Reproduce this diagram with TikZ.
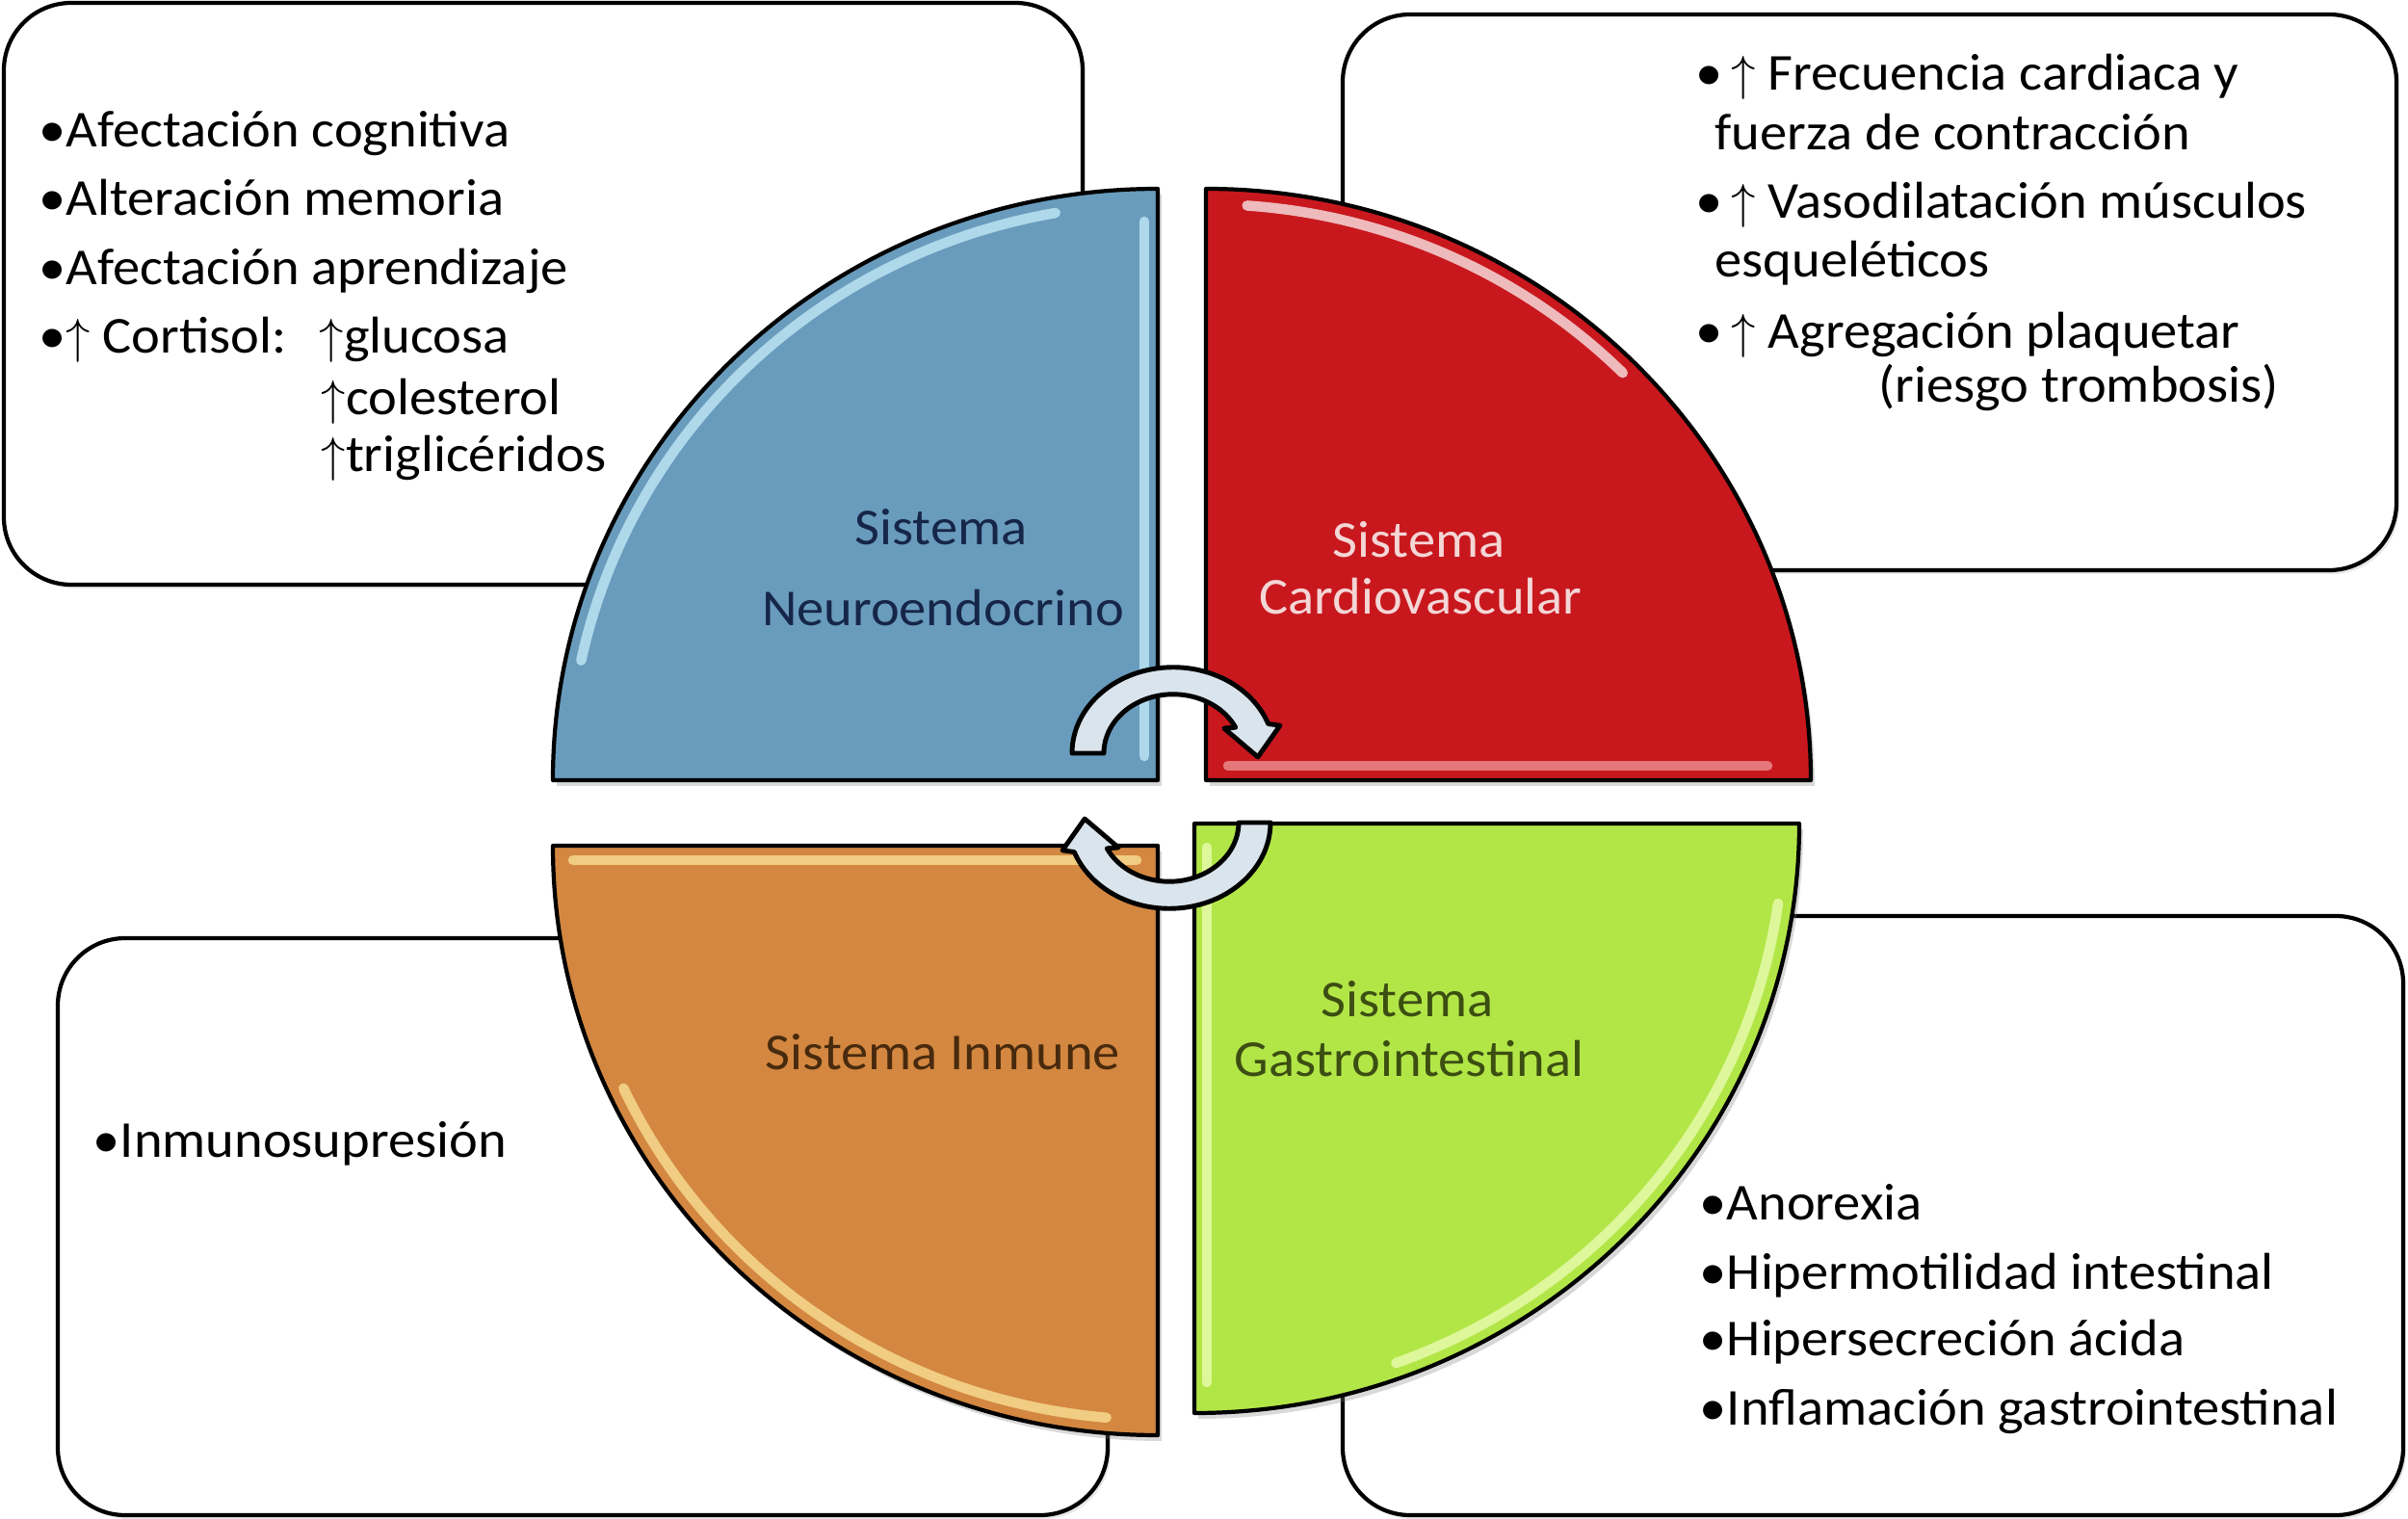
\documentclass[tikz,border=0pt]{standalone}
\usepackage{fontspec}
\setmainfont{Carlito}[FakeStretch=1.05]
\usepackage{tikz}
\usetikzlibrary{
    positioning,
    shadows
}
\definecolor{neuroBlue}{RGB}{105, 155, 188}
\definecolor{neuroGloss}{RGB}{205, 243, 255}
\definecolor{neuroText}{RGB}{22, 38, 72}
\definecolor{cardioRed}{RGB}{200, 24, 30}
\definecolor{cardioGloss}{RGB}{240, 160, 160}
\definecolor{cardioText}{RGB}{244, 214, 214}
\definecolor{inmuneOrange}{RGB}{211, 135, 64}
\definecolor{inmuneGloss}{RGB}{255, 234, 160}
\definecolor{inmuneText}{RGB}{72, 42, 14}
\definecolor{gastroGreen}{RGB}{178, 230, 71}
\definecolor{gastroGloss}{RGB}{242, 255, 190}
\definecolor{gastroText}{RGB}{60, 78, 18}
\definecolor{cycleGray}{RGB}{218, 228, 237}

\begin{document}
\begin{tikzpicture}[
    infobox/.style={draw=black, line width=1.2pt, fill=white, rounded corners=0.7cm,
        drop shadow={opacity=0.18, shadow xshift=0.03, shadow yshift=-0.04}},
    quad/.style={draw=black, line width=1.2pt, line join=round,
        drop shadow={opacity=0.3, shadow xshift=0.04, shadow yshift=-0.06}},
    gloss/.style={line width=3pt, line cap=round, opacity=0.7},
    cyc/.style={draw=black, line width=1.4pt, fill=cycleGray, line join=round},
    item/.style={anchor=base west, inner sep=0pt, font=\fontsize{15.3}{18}\selectfont},
    lab/.style={anchor=base, inner sep=0pt, font=\fontsize{15.3}{18}\selectfont}
]
        \useasboundingbox (0,0) rectangle (25,-15.77);

        % Boxes
        \draw[infobox] (0.04,-0.03) rectangle (11.24,-6.07);
        \draw[infobox] (13.94,-0.15) rectangle (24.88,-5.92);
        \draw[infobox] (0.60,-9.74) rectangle (11.50,-15.73);
        \draw[infobox] (13.94,-9.51) rectangle (24.95,-15.73);

        % Quadrants
        \draw[quad, fill=neuroBlue] (12.02,-8.10) -- (5.74,-8.10)
            arc[start angle=180, end angle=90, x radius=6.28, y radius=6.14] -- cycle;
        \draw[quad, fill=cardioRed] (12.52,-8.10) -- (12.52,-1.96)
            arc[start angle=90, end angle=0, x radius=6.28, y radius=6.14] -- cycle;
        \draw[quad, fill=inmuneOrange] (12.02,-8.78) -- (5.74,-8.78)
            arc[start angle=180, end angle=270, x radius=6.28, y radius=6.12] -- cycle;
        \draw[quad, fill=gastroGreen] (12.40,-8.55) -- (18.68,-8.55)
            arc[start angle=0, end angle=-90, x radius=6.28, y radius=6.12] -- cycle;

        % Gloss
        \draw[gloss, neuroGloss] (11.88,-2.30) -- (11.88,-7.85);
        \draw[gloss, neuroGloss] (12.02,-8.10) ++(168:6.12 and 5.98)
            arc[start angle=168, end angle=100, x radius=6.12, y radius=5.98];
        \draw[gloss, white] (12.52,-8.10) ++(86:6.12 and 5.98)
            arc[start angle=86, end angle=45, x radius=6.12, y radius=5.98];
        \draw[gloss, cardioGloss] (12.75,-7.95) -- (18.35,-7.95);
        \draw[gloss, inmuneGloss] (5.95,-8.93) -- (11.80,-8.93);
        \draw[gloss, inmuneGloss] (12.02,-8.78) ++(205:6.12 and 5.96)
            arc[start angle=205, end angle=265, x radius=6.12, y radius=5.96];
        \draw[gloss, gastroGloss] (12.53,-8.80) -- (12.53,-14.35);
        \draw[gloss, gastroGloss] (12.40,-8.55) ++(-8:6.12 and 5.96)
            arc[start angle=-8, end angle=-70, x radius=6.12, y radius=5.96];

        % Cycle arrows
        \foreach \cx/\cy/\rot in {12.18/-7.82/0, 12.14/-8.54/180} {
            \begin{scope}[shift={(\cx,\cy)}, rotate=\rot, yscale=0.85]
                \draw[cyc] (180:1.05) arc[start angle=180, end angle=20, radius=1.05]
                    -- (17:1.16) -- (-3:0.88) -- (30:0.61) -- (26:0.72)
                    arc[start angle=26, end angle=180, radius=0.72] -- cycle;
            \end{scope}
        }

        % Quadrant labels
        \node[lab, text=neuroText] (neuroA) at (9.77,-5.66) {Sistema};
        \node[lab, text=neuroText] (neuroB) at (9.79,-6.50) {Neuroendocrino};
        \node[lab, text=cardioText] (cardioA) at (14.73,-5.79) {Sistema};
        \node[lab, text=cardioText] (cardioB) at (14.75,-6.38) {Cardiovascular};
        \node[lab, text=inmuneText] (inmune) at (9.79,-11.10) {Sistema Inmune};
        \node[lab, text=gastroText] (gastroA) at (14.61,-10.55) {Sistema};
        \node[lab, text=gastroText] (gastroB) at (14.63,-11.17) {Gastrointestinal};

        % Neuroendocrino effects
        \node[item] (neuro1) at (0.40,-1.53) {•Afectación cognitiva};
        \node[item] (neuro2) at (0.40,-2.24) {•Alteración memoria};
        \node[item] (neuro3) at (0.40,-2.96) {•Afectación aprendizaje};
        \node[item] (neuro4) at (0.40,-3.67) {•$\uparrow$ Cortisol:};
        \node[item] (neuro5) at (3.31,-3.67) {$\uparrow$glucosa};
        \node[item] (neuro6) at (3.33,-4.31) {$\uparrow$colesterol};
        \node[item] (neuro7) at (3.33,-4.90) {$\uparrow$triglicéridos};

        % Cardiovascular effects
        \node[item] (cardio1) at (17.60,-0.94) {•\,$\uparrow$\ Frecuencia cardiaca y};
        \node[item] (cardio2) at (17.80,-1.56) {fuerza de contracción};
        \node[item] (cardio3) at (17.60,-2.27) {•\,$\uparrow$\ Vasodilatación músculos};
        \node[item] (cardio4) at (17.80,-2.88) {esqueléticos};
        \node[item] (cardio5) at (17.60,-3.62) {•\,$\uparrow$\ Agregación plaquetar};
        \node[item] (cardio6) at (19.50,-4.18) {(riesgo trombosis)};

        % Inmune effects
        \node[item] (inmune1) at (0.96,-12.01) {•Inmunosupresión};

        % Gastrointestinal effects
        \node[item] (gastro1) at (17.64,-12.66) {•Anorexia};
        \node[item] (gastro2) at (17.64,-13.38) {•Hipermotilidad intestinal};
        \node[item] (gastro3) at (17.64,-14.07) {•Hipersecreción ácida};
        \node[item] (gastro4) at (17.64,-14.79) {•Inflamación gastrointestinal};
\end{tikzpicture}
\end{document}
